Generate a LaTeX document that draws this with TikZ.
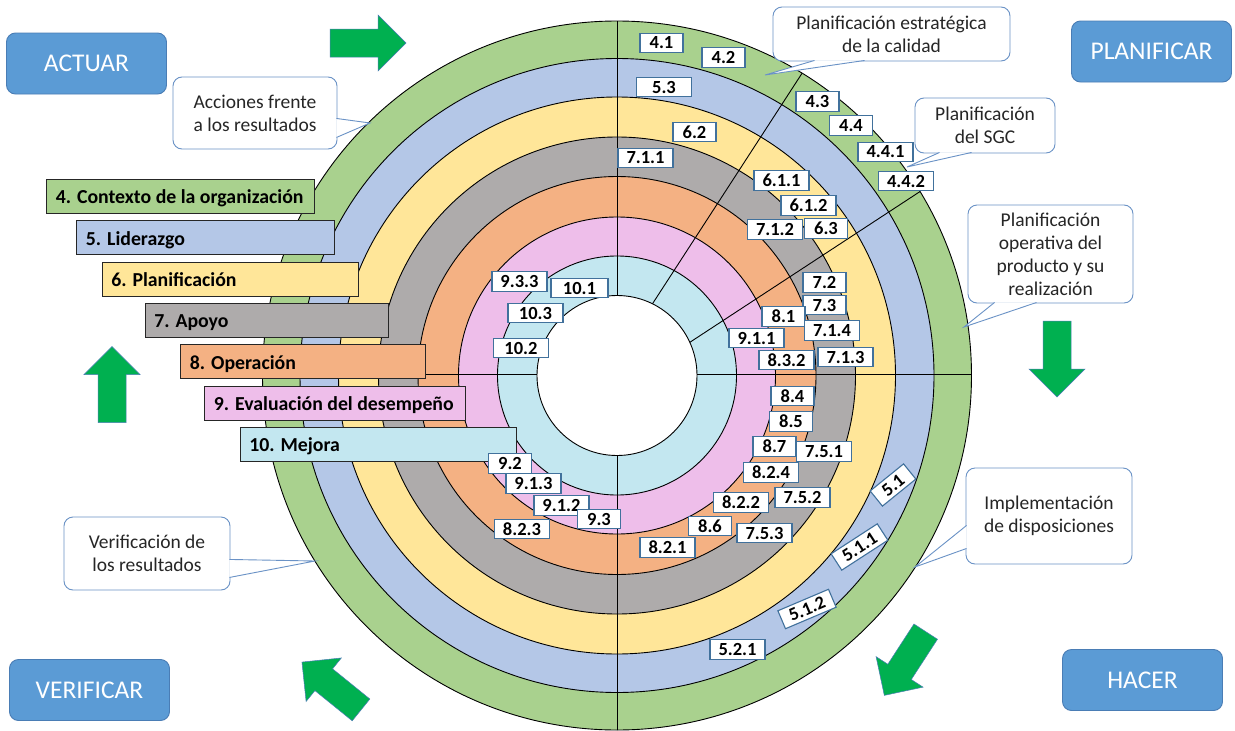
\documentclass[tikz,border=0pt]{standalone}
\usepackage{fontspec}
\setmainfont{Carlito}
\usetikzlibrary{calc}
\definecolor{ringgreen}{HTML}{A9D18E}
\definecolor{ringblue}{HTML}{B4C7E7}
\definecolor{ringyellow}{HTML}{FFE699}
\definecolor{ringgray}{HTML}{AEABAB}
\definecolor{ringorange}{HTML}{F4B183}
\definecolor{ringpink}{HTML}{EEBEEA}
\definecolor{ringcyan}{HTML}{C3E7F0}
\definecolor{boxedge}{HTML}{41719C}
\definecolor{noteedge}{HTML}{6A92C6}
\definecolor{btnblue}{HTML}{5B9BD5}
\definecolor{btnedge}{HTML}{4A7DB5}
\definecolor{arrowgreen}{HTML}{00B050}
\tikzset{
  ring/.style={draw=black, line width=0.9pt},
  bar/.style={draw=black!85, line width=0.9pt, minimum height=34pt, inner sep=0pt},
  bartext/.style={inner sep=0pt, anchor=base west, font=\bfseries\fontsize{19.8}{22}\selectfont},
  num/.style={draw=boxedge, fill=white, line width=1.1pt, minimum width=43pt, minimum height=19.5pt, inner sep=0pt, font=\bfseries\fontsize{18.5}{19}\selectfont},
  numw/.style={num, minimum width=55pt},
  note/.style={draw=noteedge, fill=white, line width=0.9pt, rounded corners=9pt, align=center, inner sep=0pt, text=black!85, font=\fontsize{19.5}{23}\selectfont},
  tail/.style={draw=noteedge, fill=white, line width=0.9pt},
  phase/.style={draw=btnedge, fill=btnblue, line width=0.9pt, rounded corners=9pt, minimum width=160pt, minimum height=61pt, text=white, font=\fontsize{25.5}{30}\selectfont},
  bigarrow/.pic={\draw[draw=btnedge, line width=0.5pt, fill=arrowgreen] (-38,-14) -- (10,-14) -- (10,-28) -- (38,0) -- (10,28) -- (10,14) -- (-38,14) -- cycle;}
}
\begin{document}
\begin{tikzpicture}[x=1pt,y=-1pt]
\useasboundingbox (0,0) rectangle (1235,731);
\fill[white] (0,0) rectangle (1235,731);
\coordinate (c) at (617,375.5);

\draw[ring, fill=ringgreen] (c) circle (354.5pt);
\draw[ring, fill=ringblue] (c) circle (317pt);
\draw[ring, fill=ringyellow] (c) circle (278.5pt);
\draw[ring, fill=ringgray] (c) circle (238.5pt);
\draw[ring, fill=ringorange] (c) circle (199pt);
\draw[ring, fill=ringpink] (c) circle (158.5pt);
\draw[ring, fill=ringcyan] (c) circle (119.5pt);

\begin{scope}
\clip (c) circle (354.5pt);
\draw[ring] (617,0) -- (617,731);
\draw[ring] (250,374) -- (990,374);
\draw[ring] (640,323) -- (810,61);
\draw[ring] (672,354) -- (930,185);
\end{scope}
\draw[ring, fill=white] (c) circle (80pt);

\node[bar, fill=ringgreen, minimum width=267.5pt] (b4) at (180.25,196.5) {};
\node[bar, fill=ringblue, minimum width=257.4pt] (b5) at (205.3,237.8) {};
\node[bar, fill=ringyellow, minimum width=256pt] (b6) at (230,279.1) {};
\node[bar, fill=ringgray, minimum width=243pt] (b7) at (266.5,320.4) {};
\node[bar, fill=ringorange, minimum width=244.4pt] (b8) at (302.8,361.7) {};
\node[bar, fill=ringpink, minimum width=260.3pt] (b9) at (334.8,403) {};
\node[bar, fill=ringcyan, minimum width=276pt] (b10) at (378,444.3) {};
\node[bartext] (t4) at ([xshift=9.5pt,yshift=-7.3pt]b4.west) {4. Contexto de la organización};
\node[bartext] (t5) at ([xshift=9.5pt,yshift=-7.3pt]b5.west) {5. Liderazgo};
\node[bartext] (t6) at ([xshift=9.5pt,yshift=-7.3pt]b6.west) {6. Planificación};
\node[bartext] (t7) at ([xshift=9.5pt,yshift=-7.3pt]b7.west) {7. Apoyo};
\node[bartext] (t8) at ([xshift=9.5pt,yshift=-7.3pt]b8.west) {8. Operación};
\node[bartext] (t9) at ([xshift=9.5pt,yshift=-7.3pt]b9.west) {9. Evaluación del desempeño};
\node[bartext] (t10) at ([xshift=9.5pt,yshift=-7.3pt]b10.west) {10. Mejora};

\node[num] (n4-1) at (661.5,43) {4.1};
\node[num] (n4-2) at (723.5,57.5) {4.2};
\node[num] (n4-3) at (817.5,101.5) {4.3};
\node[num] (n4-4) at (851,125.5) {4.4};
\node[numw] (n4-4-1) at (885.5,152) {4.4.1};
\node[numw] (n4-4-2) at (906,181) {4.4.2};
\node[numw] (n5-3) at (664,87) {5.3};
\node[num] (n6-2) at (694.5,132) {6.2};
\node[numw] (n7-1-1) at (645.5,158) {7.1.1};
\node[numw] (n6-1-1) at (781.5,180.5) {6.1.1};
\node[numw] (n6-1-2) at (808.5,205.5) {6.1.2};
\node[numw] (n7-1-2) at (775,229.5) {7.1.2};
\node[num] (n6-3) at (826,228.5) {6.3};
\node[num] (n7-2) at (824.5,282.5) {7.2};
\node[num] (n7-3) at (824.5,305) {7.3};
\node[num] (n8-1) at (783.5,316.5) {8.1};
\node[numw] (n7-1-4) at (832,330.5) {7.1.4};
\node[numw] (n9-1-1) at (756.5,338) {9.1.1};
\node[numw] (n8-3-2) at (786.5,360) {8.3.2};
\node[numw] (n7-1-3) at (845.5,357) {7.1.3};
\node[num] (n8-4) at (792.5,396) {8.4};
\node[num] (n8-5) at (791,421.5) {8.5};
\node[num] (n8-7) at (774.5,446.5) {8.7};
\node[numw] (n7-5-1) at (824,451.5) {7.5.1};
\node[numw] (n8-2-4) at (771,472.5) {8.2.4};
\node[numw] (n7-5-2) at (802.5,497.5) {7.5.2};
\node[numw] (n8-2-2) at (741,502.5) {8.2.2};
\node[num] (n8-6) at (710,526) {8.6};
\node[numw] (n7-5-3) at (764.5,533) {7.5.3};
\node[numw] (n8-2-1) at (667.5,547.5) {8.2.1};
\node[num, rotate=39] (n5-1) at (893,485) {5.1};
\node[numw, rotate=33] (n5-1-1) at (859.5,547) {5.1.1};
\node[numw, rotate=23] (n5-1-2) at (807,609) {5.1.2};
\node[numw] (n5-2-1) at (737.5,649.5) {5.2.1};
\node[numw] (n9-3-3) at (519.5,281.5) {9.3.3};
\node[numw, minimum width=57pt] (n10-1) at (579.5,288) {10.1};
\node[numw] (n10-3) at (535.5,313) {10.3};
\node[numw] (n10-2) at (521,348) {10.2};
\node[num] (n9-2) at (510,463.5) {9.2};
\node[numw] (n9-1-3) at (533.5,483.5) {9.1.3};
\node[numw] (n9-1-2) at (561.5,505.5) {9.1.2};
\node[numw] (n8-2-3) at (522,529) {8.2.3};
\node[num] (n9-3) at (599,519) {9.3};

\node[note, minimum width=237pt, minimum height=54pt] (q1) at (891.5,34) {Planificación estratégica\\de la calidad};
\coordinate (p1) at (765,75);
\draw[tail] ([xshift=42pt,yshift=1pt]q1.south west) -- (p1) -- ([xshift=92pt,yshift=1pt]q1.south west);
\node[note, minimum width=140pt, minimum height=55pt] (q2) at (985,125.5) {Planificación\\del SGC};
\coordinate (p2) at (907,167);
\draw[tail] ([xshift=25pt,yshift=1pt]q2.south west) -- (p2) -- ([xshift=57pt,yshift=1pt]q2.south west);
\node[note, minimum width=165pt, minimum height=98pt] (q3) at (1050.5,254) {Planificación\\operativa del\\producto y su\\realización};
\coordinate (p3) at (964,327);
\draw[tail] ([xshift=27pt,yshift=1pt]q3.south west) -- (p3) -- ([xshift=69pt,yshift=1pt]q3.south west);
\node[note, minimum width=166pt, minimum height=96pt] (q4) at (1049,516) {Implementación\\de disposiciones};
\coordinate (p4) at (915,567);
\draw[tail] ([xshift=1pt,yshift=39pt]q4.south west) -- (p4) -- ([xshift=1pt,yshift=16pt]q4.south west);
\node[note, minimum width=164pt, minimum height=72pt] (q5) at (255,113) {Acciones frente\\a los resultados};
\coordinate (p5) at (370,123);
\draw[tail] ([xshift=-1pt,yshift=31pt]q5.south east) -- (p5) -- ([xshift=-1pt,yshift=12pt]q5.south east);
\node[note, minimum width=166pt, minimum height=73pt] (q6) at (147,553.5) {Verificación de\\los resultados};
\coordinate (p6) at (315,561);
\draw[tail] ([xshift=-1pt,yshift=31pt]q6.south east) -- (p6) -- ([xshift=-1pt,yshift=13pt]q6.south east);

\node[phase] (act) at (86.5,63.5) {ACTUAR};
\node[phase] (plan) at (1151.5,51.5) {PLANIFICAR};
\node[phase] (do) at (1142.5,680) {HACER};
\node[phase] (check) at (89.5,690) {VERIFICAR};

\pic at (368,43) {bigarrow};
\pic[rotate=-90] at (1057,359) {bigarrow};
\pic[rotate=-123] at (905,663.5) {bigarrow};
\pic[rotate=141] at (331.5,686) {bigarrow};
\pic[rotate=90] at (112,384.5) {bigarrow};
\end{tikzpicture}
\end{document}
